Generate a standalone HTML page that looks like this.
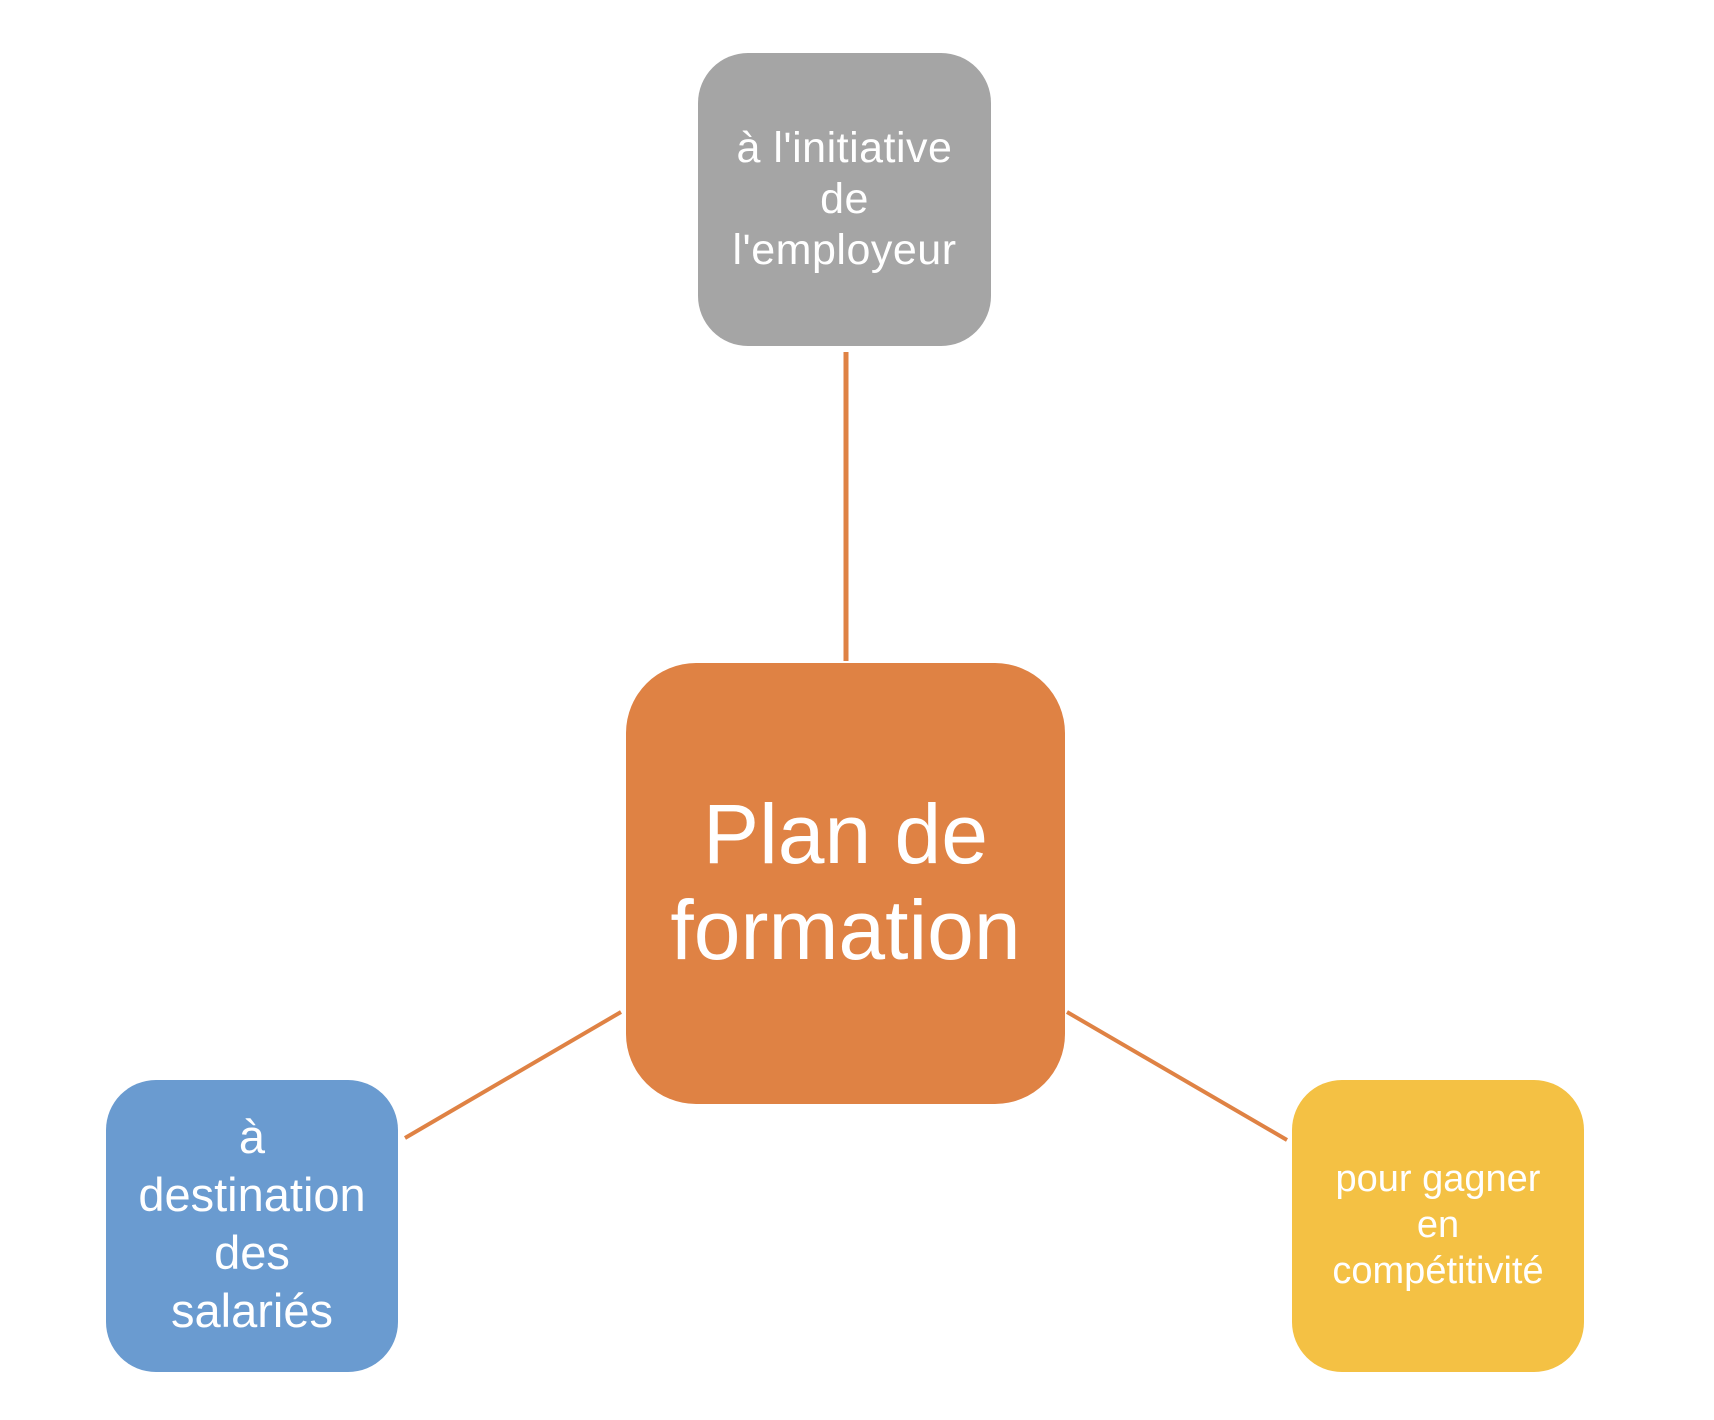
<!DOCTYPE html>
<html><head><meta charset="utf-8"><style>
html,body{margin:0;padding:0;background:#fff;}
body{width:1714px;height:1420px;position:relative;overflow:hidden;font-family:"Liberation Sans",sans-serif;}
.b{position:absolute;display:flex;align-items:center;justify-content:center;text-align:center;color:#fff;box-sizing:border-box;}
svg{position:absolute;left:0;top:0;}
</style></head><body>
<svg width="1714" height="1420">
<line x1="846" y1="352" x2="846" y2="661" stroke="#DF8244" stroke-width="5"/>
<line x1="405" y1="1138" x2="621" y2="1012" stroke="#DF8244" stroke-width="4"/>
<line x1="1067" y1="1012" x2="1287" y2="1140" stroke="#DF8244" stroke-width="4"/>
</svg>
<div class="b" style="left:698px;top:53px;width:293px;height:293px;border-radius:50px;background:#A5A5A5;font-size:43px;line-height:51px;letter-spacing:0.5px;">à l'initiative<br>de<br>l'employeur</div>
<div class="b" style="left:626px;top:663px;width:439px;height:441px;border-radius:70px;background:#DF8244;font-size:84px;line-height:96px;padding-bottom:4px;">Plan de<br>formation</div>
<div class="b" style="left:106px;top:1080px;width:292px;height:292px;border-radius:50px;background:#6A9BD0;font-size:47px;line-height:58px;padding-bottom:4px;">à<br>destination<br>des<br>salariés</div>
<div class="b" style="left:1292px;top:1080px;width:292px;height:292px;border-radius:50px;background:#F4C144;font-size:38px;line-height:46px;padding-bottom:2px;">pour gagner<br>en<br>compétitivité</div>
</body></html>
